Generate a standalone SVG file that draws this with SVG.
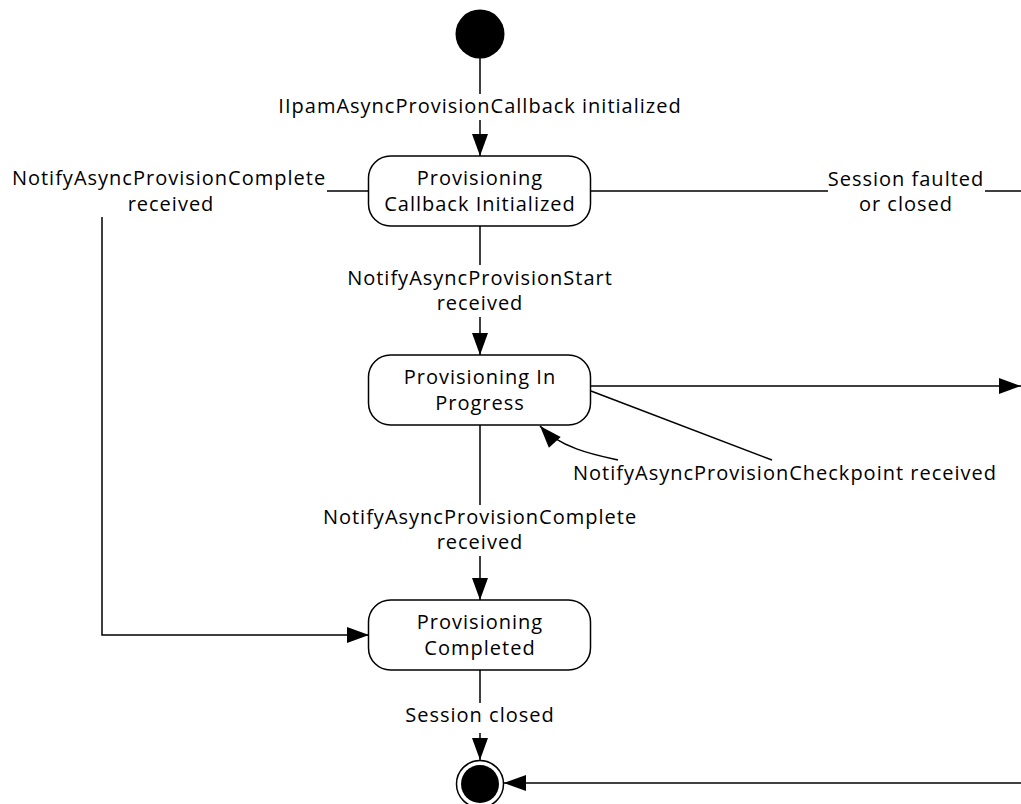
<svg xmlns="http://www.w3.org/2000/svg" width="1021" height="804" viewBox="0 0 1021 804">
<style>
text{font-family:"Open Sans","Noto Sans","DejaVu Sans",sans-serif;font-size:20px;letter-spacing:1px;fill:#000;text-anchor:middle}
.st{fill:#fff;stroke:#000;stroke-width:1.5}
.cn{fill:none;stroke:#000;stroke-width:1.5}
</style>
<defs>
<marker id="ah" markerUnits="userSpaceOnUse" markerWidth="22" markerHeight="16" refX="22" refY="8" orient="auto" overflow="visible">
<path d="M0,0 L22,8 L0,16 z" fill="#000"/>
</marker>
</defs>
<rect width="1021" height="804" fill="#fff"/>
<g id="connectors">
<path class="cn" d="M480 58 V94 M480 120 V156" marker-end="url(#ah)"/>
<path class="cn" d="M480 226 V265 M480 317 V355" marker-end="url(#ah)"/>
<path class="cn" d="M480 425 V505 M480 556 V600" marker-end="url(#ah)"/>
<path class="cn" d="M480 670 V703 M480 733 V760" marker-end="url(#ah)"/>
<path class="cn" d="M368 191 H327 M102 217 V635 H369" marker-end="url(#ah)"/>
<path class="cn" d="M591 191 H828 M985 191 H1021"/>
<path class="cn" d="M591 386 H1021" marker-end="url(#ah)"/>
<path class="cn" d="M1021 783 H504" marker-end="url(#ah)"/>
<path class="cn" d="M591 391 L772 460"/>
<path class="cn" d="M618 460 C595 455 560 448 540 426" marker-end="url(#ah)"/>
<text x="480" y="113">IIpamAsyncProvisionCallback initialized</text>
<text x="480" y="285">NotifyAsyncProvisionStart</text>
<text x="480" y="310">received</text>
<text x="480" y="524">NotifyAsyncProvisionComplete</text>
<text x="480" y="549">received</text>
<text x="480" y="722">Session closed</text>
<text x="169" y="185">NotifyAsyncProvisionComplete</text>
<text x="171" y="211">received</text>
<text x="906" y="186">Session faulted</text>
<text x="906" y="211">or closed</text>
<text x="785" y="480">NotifyAsyncProvisionCheckpoint received</text>
</g>
<g id="initial">
<circle cx="480" cy="34" r="24.5" fill="#000"/>
</g>
<g id="callback-initialized">
<rect class="st" x="368.5" y="156" width="222" height="70" rx="22"/>
<text x="480" y="185">Provisioning</text>
<text x="480" y="211">Callback Initialized</text>
</g>
<g id="in-progress">
<rect class="st" x="368.5" y="355" width="222" height="70" rx="22"/>
<text x="480" y="384">Provisioning In</text>
<text x="480" y="410">Progress</text>
</g>
<g id="completed">
<rect class="st" x="368.5" y="600" width="222" height="70" rx="22"/>
<text x="480" y="629">Provisioning</text>
<text x="480" y="655">Completed</text>
</g>
<g id="final">
<circle cx="480" cy="784" r="23.5" fill="#fff" stroke="#000" stroke-width="1.5"/>
<circle cx="480" cy="784" r="19" fill="#000"/>
</g>
</svg>
